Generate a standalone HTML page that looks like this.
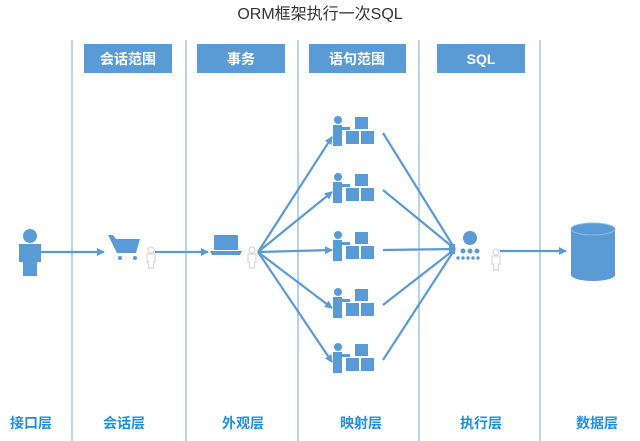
<!DOCTYPE html>
<html><head><meta charset="utf-8"><style>
body{margin:0;background:#fff;}
svg{display:block;font-family:"Liberation Sans","Noto Sans CJK SC",sans-serif;}
</style></head><body>
<svg width="640" height="441" viewBox="0 0 640 441">
<defs>
<marker id="a" markerWidth="8" markerHeight="8" refX="7" refY="4" orient="auto" markerUnits="userSpaceOnUse"><path d="M0,0 L8,4 L0,8 z" fill="#5b9bd5"/></marker>
<g id="node">
 <circle cx="-12" cy="-15" r="4" fill="#5b9bd5"/>
 <path d="M-17,-10 h9 l0,2 h8 v3 h-8 v16 h-9 z" fill="#5b9bd5"/>
 <rect x="5" y="-18" width="13" height="12" fill="#5b9bd5"/>
 <rect x="-4" y="-4" width="13" height="13" fill="#5b9bd5"/>
 <rect x="11" y="-4" width="13" height="13" fill="#5b9bd5"/>
</g>
<g id="ghost" fill="none" stroke="#d8d8d8" stroke-width="1.2">
 <circle cx="0" cy="-8" r="3"/><path d="M-4,-4 h8 v8 h-1.5 v6 h-5 v-6 h-1.5 z"/>
</g>
</defs>
<text x="320" y="19" text-anchor="middle" font-size="16" fill="#333">ORM框架执行一次SQL</text>
<g stroke="#b8d3ec" stroke-width="2">
<line x1="72" y1="40" x2="72" y2="441"/><line x1="186" y1="40" x2="186" y2="441"/>
<line x1="298" y1="40" x2="298" y2="441"/><line x1="419" y1="40" x2="419" y2="441"/>
<line x1="540" y1="40" x2="540" y2="441"/>
</g>
<g fill="#5b9bd5"><rect x="84" y="44" width="88" height="29"/><rect x="197" y="44" width="88" height="29"/><rect x="309" y="44" width="97" height="29"/><rect x="437" y="44" width="88" height="29"/></g>
<g fill="#fff" font-size="14" font-weight="bold" text-anchor="middle">
<text x="128" y="64">会话范围</text><text x="241" y="64">事务</text><text x="357" y="64">语句范围</text><text x="481" y="64">SQL</text></g>
<g stroke="#5b9bd5" stroke-width="2.2" fill="none">
<line x1="40" y1="252" x2="104" y2="252" marker-end="url(#a)"/>
<line x1="155" y1="252" x2="208" y2="252" marker-end="url(#a)"/>
<line x1="258" y1="252" x2="332" y2="137" marker-end="url(#a)"/>
<line x1="258" y1="252" x2="332" y2="192" marker-end="url(#a)"/>
<line x1="258" y1="252" x2="332" y2="250" marker-end="url(#a)"/>
<line x1="258" y1="252" x2="332" y2="308" marker-end="url(#a)"/>
<line x1="258" y1="252" x2="332" y2="362" marker-end="url(#a)"/>
<line x1="383" y1="133" x2="455" y2="249"/>
<line x1="383" y1="190" x2="455" y2="249"/>
<line x1="383" y1="250" x2="455" y2="249"/>
<line x1="383" y1="305" x2="455" y2="249"/>
<line x1="383" y1="360" x2="455" y2="249"/>
<line x1="500" y1="251" x2="566" y2="251" marker-end="url(#a)"/>
</g>
<!-- person -->
<g fill="#5b9bd5"><circle cx="30" cy="236" r="7"/><path d="M19,244 h22 v18 h-4 v14 h-14 v-14 h-4 z"/></g>
<!-- cart -->
<g fill="#5b9bd5"><path d="M108,235 h5 l3,4 h24 l-4,14 h-19 z"/><circle cx="120" cy="258" r="2"/><circle cx="135" cy="258" r="2"/></g>
<use href="#ghost" x="151" y="258"/>
<!-- laptop -->
<g fill="#5b9bd5"><rect x="214" y="235" width="24" height="15" rx="1"/><path d="M210,251 h32 l-2,4 h-28 z"/></g>
<use href="#ghost" x="252" y="258"/>
<use href="#node" x="350" y="135"/><use href="#node" x="350" y="192"/><use href="#node" x="350" y="250"/><use href="#node" x="350" y="307"/><use href="#node" x="350" y="362"/>
<!-- executor -->
<g fill="#5b9bd5"><circle cx="470" cy="238" r="7"/><circle cx="463" cy="251" r="2.5"/><circle cx="470" cy="251" r="2.5"/><circle cx="477" cy="251" r="2.5"/>
<circle cx="458" cy="258" r="1.7"/><circle cx="463" cy="258" r="1.7"/><circle cx="468" cy="258" r="1.7"/><circle cx="473" cy="258" r="1.7"/><circle cx="478" cy="258" r="1.7"/><rect x="449" y="244" width="6" height="10"/></g>
<use href="#ghost" x="496" y="260"/>
<!-- db -->
<g fill="#5b9bd5"><path d="M571,229 v46 a22,6 0 0 0 44,0 v-46 z"/><ellipse cx="593" cy="229" rx="22" ry="6"/></g>
<ellipse cx="593" cy="229" rx="22" ry="6" fill="none" stroke="#8fbce6" stroke-width="1"/>
<g fill="#1e90e0" font-size="14" font-weight="bold" text-anchor="middle">
<text x="31" y="428">接口层</text><text x="124" y="428">会话层</text><text x="243" y="428">外观层</text><text x="361" y="428">映射层</text><text x="481" y="428">执行层</text><text x="597" y="428">数据层</text></g>
</svg>
</body></html>
